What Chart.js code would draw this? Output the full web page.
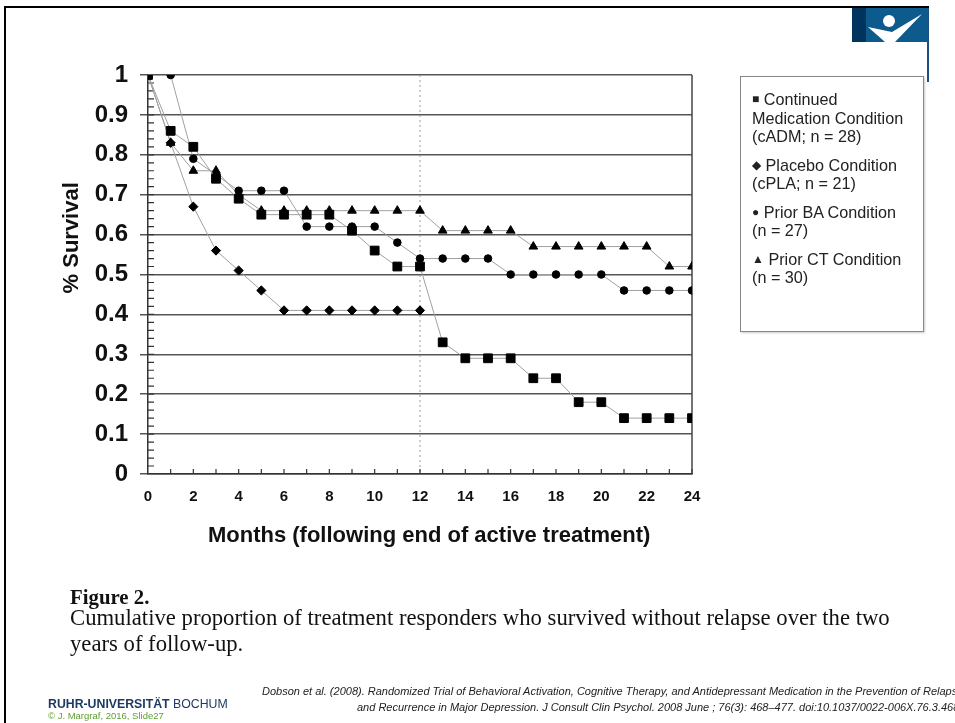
<!DOCTYPE html>
<html>
<head>
<meta charset="utf-8">
<script src="https://cdn.jsdelivr.net/npm/chart.js@4.4.1/dist/chart.umd.min.js"></script>
<style>
  body { margin: 0; background: #fff; }
  #slide { position: relative; width: 955px; height: 723px; overflow: hidden; font-family: "Liberation Sans", Arial, sans-serif; }
  #canvas { position: absolute; left: 0; top: 0; }
  .frameTop { position: absolute; left: 4px; top: 6px; width: 925px; height: 2px; background: #000; }
  .frameLeft { position: absolute; left: 4px; top: 6px; width: 2px; height: 717px; background: #000; }
  .logoLine { position: absolute; left: 927px; top: 8px; width: 1.5px; height: 74px; background: #1c4f80; }
  #logo { position: absolute; left: 852px; top: 8px; }
  #legend { position: absolute; left: 740px; top: 76px; width: 184px; height: 256px; box-sizing: border-box;
    border: 1.5px solid #888; box-shadow: 1px 1px 2px #ccc; padding: 13px 0 0 11px; color: #222; font-size: 16.2px; line-height: 18.5px; }
  #legend p { margin: 0 0 10px 0; }
  #legend .m { font-size: 12px; vertical-align: 2px; line-height: 10px; }
  .cap { position: absolute; left: 70px; font-family: "Liberation Serif", "Times New Roman", serif; color: #111; white-space: nowrap; }
  .uni { position: absolute; left: 48px; top: 697px; font-size: 12.3px; color: #1d3a63; }
  .copy { position: absolute; left: 48px; top: 710px; font-size: 9.5px; color: #5e9e32; }
  .cite { position: absolute; font-size: 11px; font-style: italic; color: #222; white-space: nowrap; font-family: "Liberation Sans Narrow", "Liberation Sans", Arial, sans-serif; }
</style>
</head>
<body>
<div id="slide">
  <canvas id="canvas" width="955" height="723"></canvas>
  <div class="frameTop"></div>
  <div class="frameLeft"></div>
  <div class="logoLine"></div>
  <svg id="logo" width="76" height="34" viewBox="0 0 76 34">
    <rect x="0" y="0" width="76" height="34" fill="#0d5b8c"/>
    <rect x="0" y="0" width="14" height="34" fill="#00335d"/>
    <circle cx="37" cy="13" r="6" fill="#fff"/>
    <path d="M16 19 L33 34 L43 34 L70 6 L40 24 Z" fill="#fff"/>
  </svg>

  <div id="legend">
    <p><span class="m">&#9632;</span> Continued<br>Medication Condition<br>(cADM; n = 28)</p>
    <p><span class="m">&#9670;</span> Placebo Condition<br>(cPLA; n = 21)</p>
    <p><span class="m">&#9679;</span> Prior BA Condition<br>(n = 27)</p>
    <p><span class="m">&#9650;</span> Prior CT Condition<br>(n = 30)</p>
  </div>

  <div class="cap" style="top:585px; font-size:20.8px; font-weight:bold;">Figure 2.</div>
  <div class="cap" style="top:605px; font-size:22.7px;">Cumulative proportion of treatment responders who survived without relapse over the two</div>
  <div class="cap" style="top:631px; font-size:22.7px;">years of follow-up.</div>

  <div class="uni"><b>RUHR-UNIVERSITÄT</b> BOCHUM</div>
  <div class="copy">© J. Margraf, 2016, Slide27</div>
  <div class="cite" style="left:262px; top:685px;">Dobson et al. (2008). Randomized Trial of Behavioral Activation, Cognitive Therapy, and Antidepressant Medication in the Prevention of Relapse</div>
  <div class="cite" style="left:357px; top:701px;">and Recurrence in Major Depression. J Consult Clin Psychol. 2008 June ; 76(3): 468–477. doi:10.1037/0022-006X.76.3.468</div>
</div>

<script>
var months = [0, 1, 2, 3, 4, 5, 6, 7, 8, 9, 10, 11, 12, 13, 14, 15, 16, 17, 18, 19, 20, 21, 22, 23, 24];
var cadm    = [1, 0.86, 0.82, 0.74, 0.69, 0.65, 0.65, 0.65, 0.65, 0.61, 0.56, 0.52, 0.52, 0.33, 0.29, 0.29, 0.29, 0.24, 0.24, 0.18, 0.18, 0.14, 0.14, 0.14, 0.14];
var placebo = [1, 0.83, 0.67, 0.56, 0.51, 0.46, 0.41, 0.41, 0.41, 0.41, 0.41, 0.41, 0.41];
var priorBA = [1, 1, 0.79, 0.75, 0.71, 0.71, 0.71, 0.62, 0.62, 0.62, 0.62, 0.58, 0.54, 0.54, 0.54, 0.54, 0.50, 0.50, 0.50, 0.50, 0.50, 0.46, 0.46, 0.46, 0.46];
var priorCT = [1, 0.83, 0.76, 0.76, 0.70, 0.66, 0.66, 0.66, 0.66, 0.66, 0.66, 0.66, 0.66, 0.61, 0.61, 0.61, 0.61, 0.57, 0.57, 0.57, 0.57, 0.57, 0.57, 0.52, 0.52];
var yTicks = [0, 0.1, 0.2, 0.3, 0.4, 0.5, 0.6, 0.7, 0.8, 0.9, 1];

function toPoints(values) {
  var pts = [];
  for (var i = 0; i < values.length; i++) {
    pts.push({ x: months[i], y: values[i] });
  }
  return pts;
}

function series(label, values, style, radius) {
  return {
    label: label,
    data: toPoints(values),
    borderColor: '#a0a0a0',
    borderWidth: 1,
    pointStyle: style,
    pointRadius: radius,
    pointBackgroundColor: '#000',
    pointBorderColor: '#000',
    pointBorderWidth: 1,
    fill: false,
    tension: 0
  };
}

// minor ticks, dashed line at 12 months, right frame
var extras = {
  id: 'extras',
  beforeDatasetsDraw: function(chart) {
    var ctx = chart.ctx, x = chart.scales.x, y = chart.scales.y, a = chart.chartArea;
    ctx.save();
    ctx.strokeStyle = '#999';
    ctx.lineWidth = 1;
    ctx.setLineDash([2, 3]);
    var px = x.getPixelForValue(12);
    ctx.beginPath(); ctx.moveTo(px, a.top); ctx.lineTo(px, a.bottom); ctx.stroke();
    ctx.setLineDash([]);
    ctx.strokeStyle = '#333';
    ctx.lineWidth = 1.2;
    ctx.beginPath();
    for (var m = 1; m < months.length; m++) {
      var mx = x.getPixelForValue(months[m]);
      ctx.moveTo(mx, a.bottom); ctx.lineTo(mx, a.bottom - 5);
    }
    for (var k = 1; k < 50; k++) {
      var py = y.getPixelForValue(k * 0.02);
      ctx.moveTo(a.left, py); ctx.lineTo(a.left + 6, py);
    }
    ctx.stroke();
    ctx.lineWidth = 1.5;
    ctx.strokeStyle = '#444';
    ctx.beginPath(); ctx.moveTo(a.right, a.top); ctx.lineTo(a.right, a.bottom); ctx.stroke();
    ctx.restore();
  }
};

var ctx = document.getElementById('canvas').getContext('2d');
window.myChart = new Chart(ctx, {
  type: 'line',
  data: {
    datasets: [
      series('Continued Medication Condition (cADM; n = 28)', cadm, 'rect', 6.2),
      series('Placebo Condition (cPLA; n = 21)', placebo, 'rectRot', 4.6),
      series('Prior BA Condition (n = 27)', priorBA, 'circle', 3.8),
      series('Prior CT Condition (n = 30)', priorCT, 'triangle', 5)
    ]
  },
  plugins: [extras],
  options: {
    responsive: false,
    animation: false,
    layout: { padding: { left: 55, right: 263, top: 75, bottom: 170 } },
    plugins: {
      legend: { display: false },
      tooltip: { enabled: false }
    },
    scales: {
      x: {
        type: 'linear',
        min: 0,
        max: 24,
        afterFit: function(s) { s.height = 79; },
        ticks: {
          stepSize: 2,
          padding: 14,
          color: '#111',
          font: { family: '"Liberation Sans", Arial, sans-serif', size: 15, weight: 'bold' }
        },
        grid: { display: false, drawTicks: false },
        border: { display: true, color: '#333', width: 1.5 },
        title: {
          display: true,
          // leading spaces nudge the title right, as in the original
          text: '   Months (following end of active treatment)',
          color: '#111',
          font: { family: '"Liberation Sans", Arial, sans-serif', size: 22, weight: 'bold' }
        }
      },
      y: {
        min: 0,
        max: 1,
        afterFit: function(s) { s.width = 93; },
        afterBuildTicks: function(s) {
          s.ticks = yTicks.map(function(v) { return { value: v }; });
        },
        ticks: {
          padding: 12,
          color: '#111',
          font: { family: '"Liberation Sans", Arial, sans-serif', size: 24, weight: 'bold' },
          callback: function(v) { return (v === 0 || v === 1) ? String(v) : v.toFixed(1); }
        },
        grid: { color: '#555', lineWidth: 1.5, tickLength: 8 },
        border: { display: true, color: '#333', width: 1.5 },
        title: {
          display: true,
          // leading spaces push the rotated title up
          text: '            % Survival',
          color: '#111',
          font: { family: '"Liberation Sans", Arial, sans-serif', size: 22, weight: 'bold' }
        }
      }
    }
  }
});
</script>
</body>
</html>
